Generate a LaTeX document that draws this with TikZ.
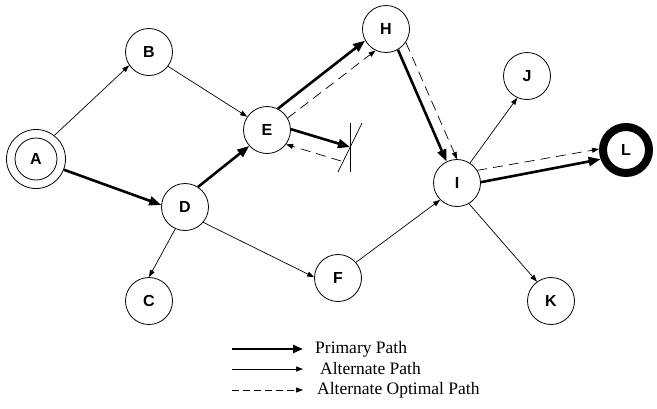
\documentclass[tikz,border=0pt]{standalone}
\usepackage{fontspec}
\setmainfont{Liberation Serif}
\setsansfont{Liberation Sans}
\usetikzlibrary{arrows.meta}

\tikzset{
  hop/.style={circle, draw, line width=0.8pt, minimum size=47pt, inner sep=0pt,
    font=\sffamily\bfseries\fontsize{16}{16}\selectfont},
  primary/.style={line width=2.6pt, -{Triangle[length=12pt,width=9pt]}},
  alternate/.style={line width=0.7pt, -{Triangle[length=7pt,width=5pt]}},
  optimal/.style={line width=0.7pt, dash pattern=on 10pt off 6pt, -{Triangle[length=7pt,width=5pt]}},
  legtext/.style={anchor=west, inner sep=0pt, font=\fontsize{17.5}{17.5}\selectfont}
}

\begin{document}
\begin{tikzpicture}[x=1pt, y=-1pt]
\useasboundingbox (0,0) rectangle (657,408);

% nodes
\node[hop, minimum size=59pt] (A) at (36,159) {A};
\draw[line width=0.8pt] (A.center) circle (21pt);
\node[hop] (B) at (149,52) {B};
\node[hop] (C) at (149,301) {C};
\node[hop] (D) at (185,207) {D};
\node[hop] (E) at (267,130) {E};
\node[hop] (F) at (338,278) {F};
\node[hop] (H) at (386,29) {H};
\node[hop] (I) at (457,183) {I};
\node[hop] (J) at (527,76) {J};
\node[hop] (K) at (551,301) {K};
\node[hop, line width=8pt, minimum size=46pt] (L) at (626,150) {L};

% blocked link
\coordinate (blk) at (350,147);
\coordinate (blkb) at (341,161);
\draw[line width=0.7pt] (350,123) -- (350,172);
\draw[line width=0.7pt] (338,172) -- (362,123);

% alternate paths
\draw[alternate] (A.52) -- (B.214);
\draw[alternate] (B.-37) -- (E.146);
\draw[alternate] (D.246) -- (C.90);
\draw[alternate] (D.-40) -- (F.178);
\draw[alternate] (F.41) -- (I.225);
\draw[alternate] (I.57) -- (J.246);
\draw[alternate] (I.-60) -- (K.126);

% primary path
\draw[primary] (A.-21) -- (D.175);
\draw[primary] (D.57) -- (E.222);
\draw[primary] (E.63) -- (H.209);
\draw[primary] (E.2) -- (blk);
\draw[primary] (H.-60) -- (I.116);
\draw[primary] (I.2) -- (L.200);

% alternate optimal path
\draw[optimal] (blkb) -- (E.-37);
\draw[optimal] (E.30) -- (H.244);
\draw[optimal] (H.-34) -- (I.90);
\draw[optimal] (I.32) -- (L.178);

% legend
\coordinate (p1) at (232,349);
\coordinate (p2) at (303,349);
\coordinate (a1) at (232,369);
\coordinate (a2) at (303,369);
\coordinate (o1) at (232,390);
\coordinate (o2) at (303,390);
\draw[line width=2.4pt, -{Triangle[length=10pt,width=8pt]}] (p1) -- (p2);
\draw[line width=0.7pt, -{Triangle[length=7pt,width=5pt]}] (a1) -- (a2);
\draw[line width=0.7pt, dash pattern=on 6.5pt off 4.5pt, -{Triangle[length=7pt,width=5pt]}] (o1) -- (o2);
\node[legtext] (pt) at (315,349) {Primary Path};
\node[legtext] (at) at (320,369) {Alternate Path};
\node[legtext] (ot) at (317,390) {Alternate Optimal Path};
\end{tikzpicture}
\end{document}
